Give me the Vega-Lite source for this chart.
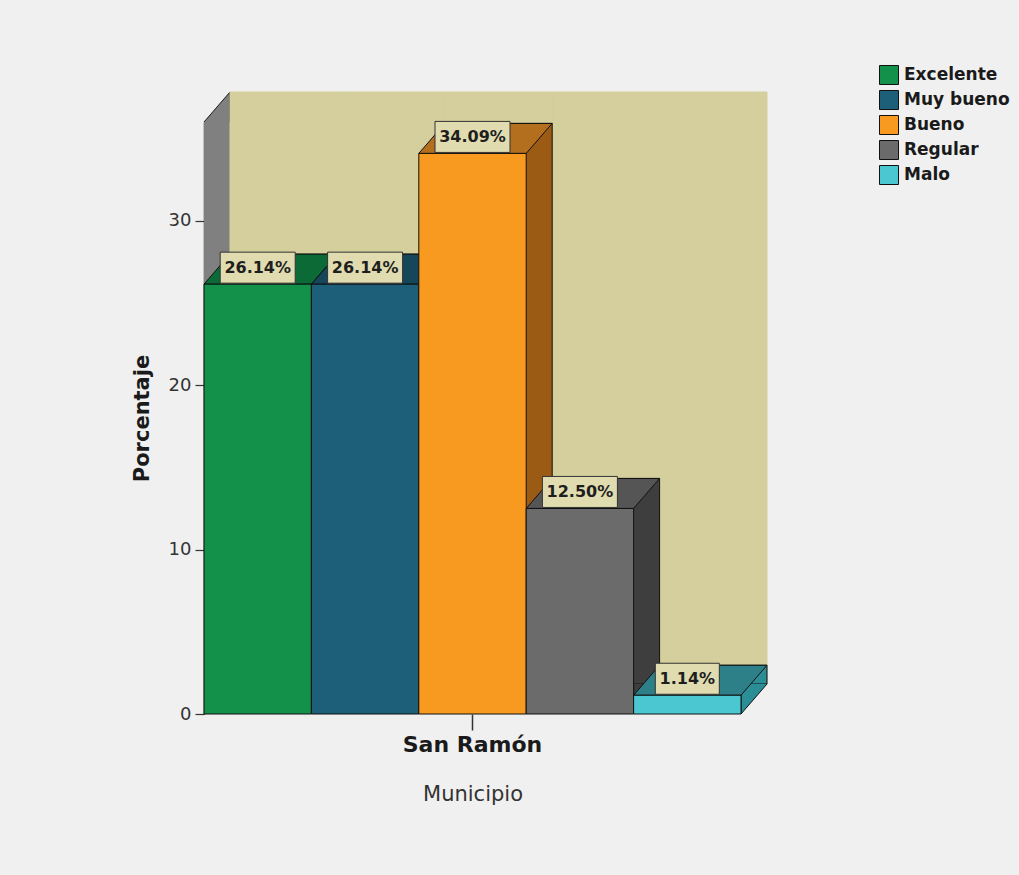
{
  "$schema": "https://vega.github.io/schema/vega-lite/v6.json",
  "autosize": "none",
  "padding": {"left": 204, "top": 122, "right": 278, "bottom": 161},
  "width": 537,
  "height": 592,
  "background": "#F0F0F0",
  "config": {
    "view": {"stroke": null},
    "font": "DejaVu Sans"
  },
  "data": {
    "values": [
      {"Municipio": "San Ramón", "Valoracion": "Excelente", "Porcentaje": 26.14, "Etiqueta": "26.14%"},
      {"Municipio": "San Ramón", "Valoracion": "Muy bueno", "Porcentaje": 26.14, "Etiqueta": "26.14%"},
      {"Municipio": "San Ramón", "Valoracion": "Bueno", "Porcentaje": 34.09, "Etiqueta": "34.09%"},
      {"Municipio": "San Ramón", "Valoracion": "Regular", "Porcentaje": 12.5, "Etiqueta": "12.50%"},
      {"Municipio": "San Ramón", "Valoracion": "Malo", "Porcentaje": 1.14, "Etiqueta": "1.14%"}
    ]
  },
  "resolve": {"scale": {"color": "independent"}},
  "encoding": {
    "x": {
      "field": "Valoracion", "type": "nominal",
      "scale": {"domain": ["Excelente", "Muy bueno", "Bueno", "Regular", "Malo"], "paddingInner": 0, "paddingOuter": 0}
    }
  },
  "layer": [
    {
      "mark": {"type": "rect", "fill": "#808080"},
      "encoding": {
        "x": {
          "field": "Valoracion", "type": "nominal",
          "axis": {
            "title": "Municipio", "orient": "bottom", "values": ["Bueno"], "labelExpr": "'San Ramón'",
            "domain": false, "tickSize": 16, "tickColor": "#333333", "tickWidth": 1.5,
            "labelFont": "DejaVu Sans", "labelFontWeight": "bold", "labelFontSize": 22,
            "labelColor": "#1a1a1a", "labelPadding": 4, "labelAngle": 0,
            "titleFont": "DejaVu Sans", "titleFontSize": 21, "titleFontWeight": "normal",
            "titleColor": "#333333", "titleY": 80, "titleBaseline": "middle"
          }
        },
        "y": {"datum": 36, "type": "quantitative"},
        "y2": {"datum": 0}
      }
    },
    {
      "mark": {"type": "point", "filled": true, "opacity": 1, "size": 4, "fill": "#808080", "stroke": "#1a1a1a", "strokeWidth": 1,
               "shape": "M-53.7,0 L-27.7,-30 L-27.7,0"},
      "encoding": {
        "y": {"datum": 36, "type": "quantitative"}
      }
    },
    {
      "mark": {"type": "rect", "fill": "#D4CF9C", "stroke": "#D4CF9C", "strokeWidth": 1,
               "xOffset": 26, "x2Offset": 26, "yOffset": -30, "y2Offset": -30},
      "encoding": {
        "y": {"datum": 36, "type": "quantitative"},
        "y2": {"datum": 0}
      }
    },
    {
      "mark": {"type": "bar", "stroke": "#111111", "strokeWidth": 1,
               "xOffset": 26, "x2Offset": 26, "yOffset": -30, "y2Offset": -30},
      "encoding": {
        "y": {"field": "Porcentaje", "type": "quantitative"},
        "color": {"field": "Valoracion", "type": "nominal", "legend": null,
                  "scale": {"domain": ["Excelente", "Muy bueno", "Bueno", "Regular", "Malo"],
                            "range": ["#0A5A2E", "#103B4C", "#9C5B14", "#3E3E3E", "#2B8E96"]}}
      }
    },
    {
      "mark": {"type": "point", "filled": true, "opacity": 1, "size": 4, "stroke": "#111111", "strokeWidth": 1,
               "shape": "M79.7,-30 L53.7,0 L53.7,-30"},
      "encoding": {
        "y": {"datum": 0, "type": "quantitative"},
        "color": {"field": "Valoracion", "type": "nominal", "legend": null,
                  "scale": {"domain": ["Excelente", "Muy bueno", "Bueno", "Regular", "Malo"],
                            "range": ["#0A5A2E", "#103B4C", "#9C5B14", "#3E3E3E", "#2B8E96"]}}
      }
    },
    {
      "mark": {"type": "point", "filled": true, "opacity": 1, "size": 4, "stroke": "#111111", "strokeWidth": 1,
               "shape": "M-53.7,0 L53.7,0 L79.7,-30 L-27.7,-30 Z"},
      "encoding": {
        "y": {"field": "Porcentaje", "type": "quantitative"},
        "color": {"field": "Valoracion", "type": "nominal", "legend": null,
                  "scale": {"domain": ["Excelente", "Muy bueno", "Bueno", "Regular", "Malo"],
                            "range": ["#0C6A36", "#15465A", "#B46F1E", "#555555", "#2D8088"]}}
      }
    },
    {
      "mark": {"type": "bar", "stroke": "#111111", "strokeWidth": 1},
      "encoding": {
        "y": {
          "field": "Porcentaje", "type": "quantitative",
          "scale": {"domain": [0, 36], "nice": false},
          "axis": {
            "title": "Porcentaje", "values": [0, 10, 20, 30], "grid": false,
            "tickSize": 9, "tickColor": "#333333", "tickWidth": 1.2,
            "domainColor": "#333333", "domainWidth": 1.5,
            "labelFont": "DejaVu Sans", "labelFontSize": 18, "labelColor": "#333333", "labelPadding": 4,
            "titleFont": "DejaVu Sans", "titleFontSize": 21, "titleFontWeight": "bold", "titleColor": "#1a1a1a",
            "titlePadding": 16
          }
        },
        "color": {
          "field": "Valoracion", "type": "nominal",
          "scale": {"domain": ["Excelente", "Muy bueno", "Bueno", "Regular", "Malo"],
                    "range": ["#13914B", "#1D5E78", "#F89A1F", "#6B6B6B", "#4BC7D1"]},
          "legend": {
            "title": null, "orient": "none", "legendX": 675, "legendY": -57, "padding": 0,
            "symbolType": "square", "symbolSize": 361, "symbolStrokeColor": "#111111", "symbolStrokeWidth": 1,
            "symbolOpacity": 1,
            "labelFont": "DejaVu Sans", "labelFontWeight": "bold", "labelFontSize": 17, "labelColor": "#1a1a1a",
            "labelOffset": 5, "rowPadding": 1
          }
        }
      }
    },
    {
      "mark": {"type": "point", "filled": true, "opacity": 1, "size": 4, "fill": "#E0DCB0", "stroke": "#333333", "strokeWidth": 1},
      "encoding": {
        "y": {"field": "Porcentaje", "type": "quantitative"},
        "shape": {
          "condition": {"test": "datum.Porcentaje < 10", "value": "M-32,-32 L32,-32 L32,-1 L-32,-1 Z"},
          "value": "M-37.5,-32 L37.5,-32 L37.5,-1 L-37.5,-1 Z"
        }
      }
    },
    {
      "mark": {"type": "text", "font": "DejaVu Sans", "fontWeight": "bold", "fontSize": 16,
               "color": "#1e1e1e", "align": "center", "baseline": "middle", "dy": -16},
      "encoding": {
        "y": {"field": "Porcentaje", "type": "quantitative"},
        "text": {"field": "Etiqueta"}
      }
    }
  ]
}
